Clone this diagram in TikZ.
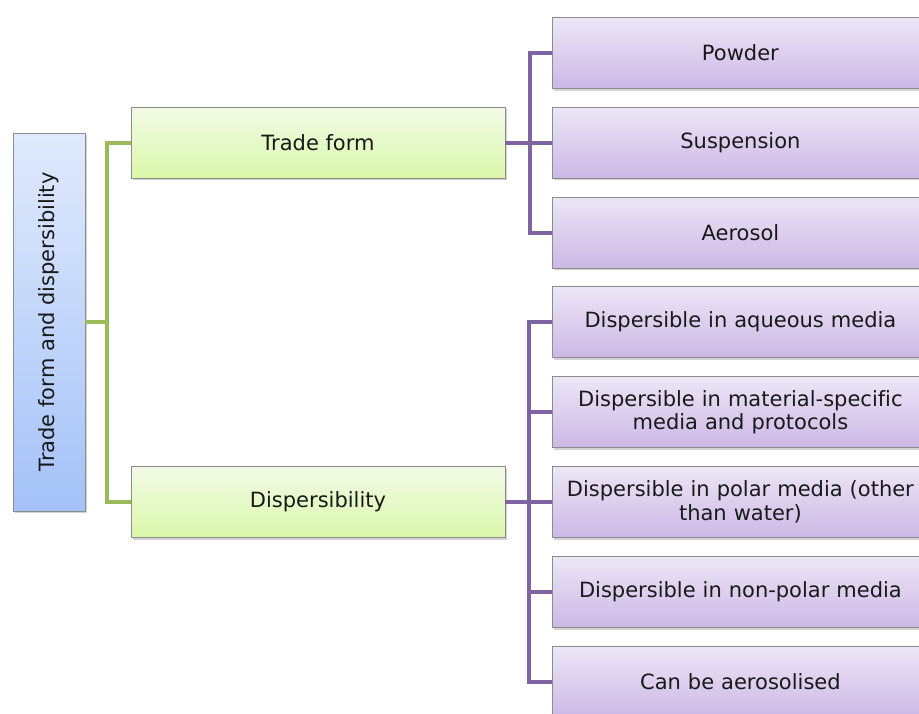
\documentclass[tikz,border=0pt]{standalone}
\usepackage{fontspec}
\setmainfont{DejaVu Sans}[Ligatures=NoCommon]
\usetikzlibrary{shadows}
\definecolor{gline}{HTML}{9BBB59}
\definecolor{pline}{HTML}{8064A2}
\definecolor{bord}{HTML}{8C8C8C}
\tikzset{
  x=1pt,y=-1pt,
  base/.style={draw=bord, line width=0.8pt, inner sep=2pt, align=center,
     font=\fontsize{21}{23.5}\selectfont, text=black!90,
     drop shadow={opacity=0.35, shadow xshift=1.5pt, shadow yshift=-2pt}},
  rootbox/.style={base, top color={rgb,255:red,224;green,234;blue,252}, bottom color={rgb,255:red,164;green,194;blue,248},
     minimum width=378pt, minimum height=72pt, rotate=90},
  midbox/.style={base, top color={rgb,255:red,242;green,250;blue,230}, bottom color={rgb,255:red,218;green,248;blue,170},
     minimum width=374pt, minimum height=71pt},
  leafbox/.style={base, top color={rgb,255:red,236;green,230;blue,246}, bottom color={rgb,255:red,204;green,184;blue,230},
     minimum width=376pt, minimum height=71pt, text width=368pt},
  gconn/.style={draw=gline, line width=4pt},
  pconn/.style={draw=pline, line width=4pt},
}
\begin{document}
\begin{tikzpicture}
\useasboundingbox[clip] (0,0) rectangle (919,713);
\fill[white] (0,0) rectangle (919,713);
\coordinate (gx) at (107,0);
\coordinate (p1) at (530,0);
\coordinate (p2) at (529,0);
\node[rootbox] (root) at (49,322) {Trade form and dispersibility};
\node[midbox] (tf) at (318,142.5) {Trade form};
\node[midbox] (ds) at (318,502) {Dispersibility};
\node[leafbox, anchor=west] (pw) at (552,53) {Powder};
\node[leafbox, anchor=west] (su) at (552,142.5) {Suspension};
\node[leafbox, anchor=west] (ae) at (552,232.5) {Aerosol};
\node[leafbox, anchor=west] (aq) at (552,322) {Dispersible in aqueous media};
\node[leafbox, anchor=west] (ms) at (552,412) {Dispersible in material-specific\\media and protocols};
\node[leafbox, anchor=west] (po) at (552,502) {Dispersible in polar media (other\\than water)};
\node[leafbox, anchor=west] (np) at (552,592) {Dispersible in non-polar media};
\node[leafbox, anchor=west] (ca) at (552,682) {Can be aerosolised};
% green connectors
\draw[gconn] (root.south) -- (gx |- root.south);
\draw[gconn] (tf.west) -| (gx |- ds.west) -- (ds.west);
% purple connectors
\draw[pconn] (tf.east) -- (p1 |- tf.east);
\draw[pconn] (pw.west) -| (p1 |- ae.west) -- (ae.west);
\draw[pconn] (p1 |- su.west) -- (su.west);
\draw[pconn] (ds.east) -- (p2 |- ds.east);
\draw[pconn] (aq.west) -| (p2 |- ca.west) -- (ca.west);
\draw[pconn] (p2 |- ms.west) -- (ms.west);
\draw[pconn] (p2 |- po.west) -- (po.west);
\draw[pconn] (p2 |- np.west) -- (np.west);
\end{tikzpicture}
\end{document}
